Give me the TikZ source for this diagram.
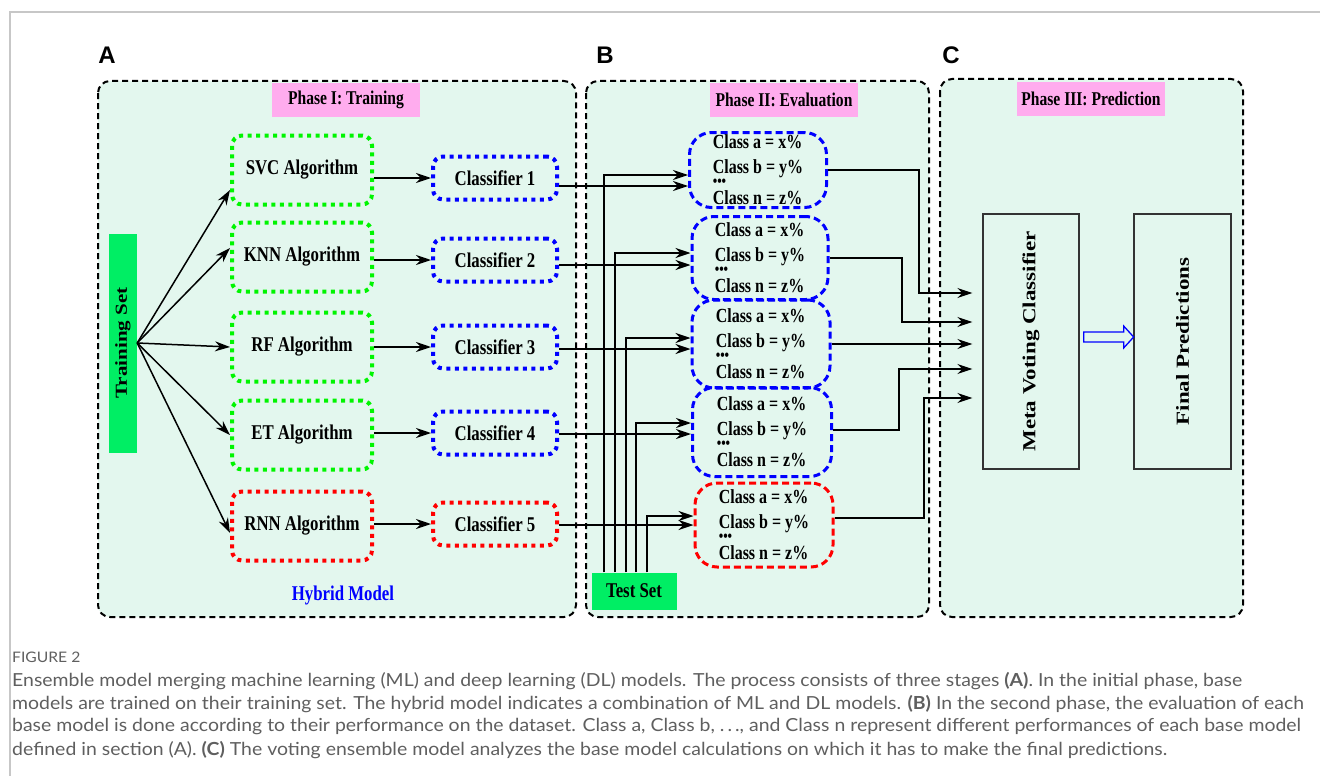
\documentclass[tikz,border=0pt]{standalone}
\usepackage{fontspec}
\setmainfont{Liberation Serif}
\newfontfamily\tnrS[FakeStretch=0.8]{Liberation Serif}
\newfontfamily\labfont{Liberation Sans}
\newfontfamily\capfont[FakeStretch=1.08]{Lato}
\usetikzlibrary{arrows.meta,calc}
\newcommand\setfs[1]{\fontsize{#1}{#1}\selectfont}
\definecolor{mint}{RGB}{227,247,238}
\definecolor{pinkc}{RGB}{255,172,238}
\definecolor{barc}{RGB}{0,238,100}
\definecolor{greenc}{RGB}{0,245,0}
\definecolor{bluec}{RGB}{0,0,255}
\definecolor{redc}{RGB}{255,0,0}
\definecolor{capc}{RGB}{95,95,95}
\tikzset{
  panel/.style={draw=black, line width=2pt, dash pattern=on 6pt off 4pt, rounded corners=12pt, fill=mint},
  phase/.style={fill=pinkc, minimum width=148pt, minimum height=34pt, inner sep=0pt, font=\tnrS\bfseries\setfs{19.5}},
  dotbox/.style={line width=4pt, dash pattern=on 4pt off 4.5pt, rounded corners=10pt, font=\tnrS\bfseries\setfs{21}, inner sep=0pt},
  algo/.style={dotbox, draw=greenc, minimum width=140pt, minimum height=69pt},
  cls/.style={dotbox, draw=bluec, minimum width=124pt, minimum height=43pt},
  evalbox/.style={draw=bluec, line width=3pt, dash pattern=on 7pt off 4pt, rounded corners=22pt, align=left, inner sep=0pt, font=\tnrS\bfseries\fontsize{20}{25}\selectfont},
  bar/.style={fill=barc, inner sep=0pt},
  arr/.style={-{Stealth[length=15pt,width=10pt]}, line width=1.5pt},
  bigbox/.style={draw=black!80, line width=1.3pt, fill=mint, inner sep=0pt},
  abc/.style={font=\labfont\bfseries\setfs{24}},
  captxt/.style={anchor=west, inner sep=0pt, text=capc, font=\capfont\setfs{18}}
}
\newcommand\evtext{Class a = x\%\\ Class b = y\%\\[-12.4pt] {\setfs{16}\textbullet\textbullet\textbullet}\\[-6.6pt] Class n = z\%}
\begin{document}
\begin{tikzpicture}[x=1pt,y=-1pt]
\useasboundingbox (0,0) rectangle (1320,776);
\fill[white] (0,0) rectangle (1320,776);
\draw[black!22, line width=1.5pt] (10,776) -- (10,12) -- (1320,12);

% panels
\draw[panel] (98,81) rectangle (576,617);
\draw[panel] (586,81) rectangle (929,617);
\draw[panel] (940,79) rectangle (1243,617);

\node[abc] (la) at (107,55) {A};
\node[abc] (lb) at (605,55) {B};
\node[abc] (lc) at (951,55) {C};

\node[phase] (p1) at (346,100) {Phase I: Training};
\node[phase] (p2) at (784,100) {Phase II: Evaluation};
\node[phase] (p3) at (1091,99) {Phase III: Prediction};

% training set
\node[bar, rotate=90, minimum width=219pt, minimum height=28pt, font=\bfseries\setfs{21}] (train) at (123,343) {\scalebox{1}[0.8]{Training Set}};

% algorithms
\node[algo] (svc) at (302,170) {SVC Algorithm};
\node[algo] (knn) at (302,257) {KNN Algorithm};
\node[algo] (rf)  at (302,347) {RF Algorithm};
\node[algo] (et)  at (302,435) {ET Algorithm};
\node[algo, draw=redc] (rnn) at (302,526) {RNN Algorithm};

% classifiers
\node[cls] (c1) at (495,178) {Classifier 1};
\node[cls] (c2) at (495,260) {Classifier 2};
\node[cls] (c3) at (495,347) {Classifier 3};
\node[cls] (c4) at (495,433) {Classifier 4};
\node[cls, draw=redc] (c5) at (495,524) {Classifier 5};

\node[font=\tnrS\bfseries\setfs{21}, text=bluec] (hyb) at (343,595) {Hybrid Model};

% fan from training set
\draw[arr] (train.south) -- ($(svc.west)+(0,20)$);
\draw[arr] (train.south) -- ($(knn.west)+(0,-9)$);
\draw[arr] (train.south) -- (rf.west);
\draw[arr] (train.south) -- (et.west);
\draw[arr] (train.south) -- ($(rnn.west)+(0,7)$);

% algorithm -> classifier
\foreach \a/\c in {svc/c1,knn/c2,rf/c3,et/c4,rnn/c5}
  \draw[arr] (\c.west -| \a.east) -- (\c.west);

% evaluation boxes
\node[evalbox, minimum width=137pt, minimum height=75pt] (e1) at (758,170) {\evtext};
\node[evalbox, minimum width=136pt, minimum height=83pt] (e2) at (760,258) {\evtext};
\node[evalbox, minimum width=138pt, minimum height=88pt] (e3) at (761,344) {\evtext};
\node[evalbox, minimum width=139pt, minimum height=89pt] (e4) at (762,432) {\evtext};
\node[evalbox, draw=redc, minimum width=138pt, minimum height=84pt] (e5) at (764,525) {\evtext};

% test set
\node[bar, minimum width=85pt, minimum height=37pt, font=\tnrS\bfseries\setfs{21}] (test) at (634,591) {Test Set};

% classifier -> evaluation
\draw[arr] ($(c1.east)+(0,8)$) -- ($(e1.west)+(0,16)$);
\draw[arr] ($(c2.east)+(0,5)$) -- ($(e2.west)+(0,7)$);
\draw[arr] ($(c3.east)+(0,2)$) -- ($(e3.west)+(0,5)$);
\draw[arr] ($(c4.east)+(0,1)$) -- ($(e4.west)+(0,2)$);
\draw[arr] ($(c5.east)+(0,1)$) -- ($(e5.west)+(0,0)$);

% test set -> evaluation
\draw[arr] ($(test.north)+(-30,0)$) |- ($(e1.west)+(0,5)$);
\draw[arr] ($(test.north)+(-19,0)$) |- ($(e2.west)+(0,-5)$);
\draw[arr] ($(test.north)+(-8,0)$) |- ($(e3.west)+(0,-6)$);
\draw[arr] ($(test.north)+(2,0)$) |- ($(e4.west)+(0,-9)$);
\draw[arr] ($(test.north)+(13,0)$) |- ($(e5.west)+(0,-9)$);

% phase III
\node[bigbox, minimum width=96pt, minimum height=255pt] (meta) at (1031,341.5) {};
\node[rotate=90, font=\bfseries\setfs{23}] (metat) at (meta.center) {\scalebox{1}[0.8]{Meta Voting Classifier}};
\node[bigbox, minimum width=97pt, minimum height=255pt] (final) at (1182.5,341.5) {};
\node[rotate=90, font=\bfseries\setfs{23}] (finalt) at (final.center) {\scalebox{1}[0.8]{Final Predictions}};

\draw[bluec, line width=1.3pt] ($(meta.east)+(4,-9.5)$) -- ++(40,0) -- ++(0,-6) -- ++(10,11) -- ++(-10,11) -- ++(0,-6) -- ++(-40,0) -- cycle;

% evaluation -> meta
\coordinate (m1) at (919,293);
\coordinate (m2) at (902,322);
\coordinate (m4) at (899,369);
\coordinate (m5) at (924,398);
\draw[arr, shorten >=10pt] (e1.east) -| (m1) -- (meta.west |- m1);
\draw[arr, shorten >=10pt] (e2.east) -| (m2) -- (meta.west |- m2);
\draw[arr, shorten >=10pt] (e3.east) -- (meta.west |- e3.east);
\draw[arr, shorten >=10pt] ($(e4.east)+(0,-2)$) -| (m4) -- (meta.west |- m4);
\draw[arr, shorten >=10pt] ($(e5.east)+(0,-7)$) -| (m5) -- (meta.west |- m5);

% caption
\node[captxt, font=\capfont\setfs{14.5}] (fig) at (12,657) {FIGURE 2};
\node[captxt] (cap1) at (12,681) {Ensemble model merging machine learning (ML) and deep learning (DL) models. The process consists of three stages \textbf{(A)}. In the initial phase, base};
\node[captxt] (cap2) at (12,704) {models are trained on their training set. The hybrid model indicates a combination of ML and DL models. \textbf{(B)} In the second phase, the evaluation of each};
\node[captxt] (cap3) at (12,727) {base model is done according to their performance on the dataset. Class a, Class b, .\,.\,., and Class n represent different performances of each base model};
\node[captxt] (cap4) at (12,750) {defined in section (A). \textbf{(C)} The voting ensemble model analyzes the base model calculations on which it has to make the final predictions.};
\end{tikzpicture}
\end{document}
